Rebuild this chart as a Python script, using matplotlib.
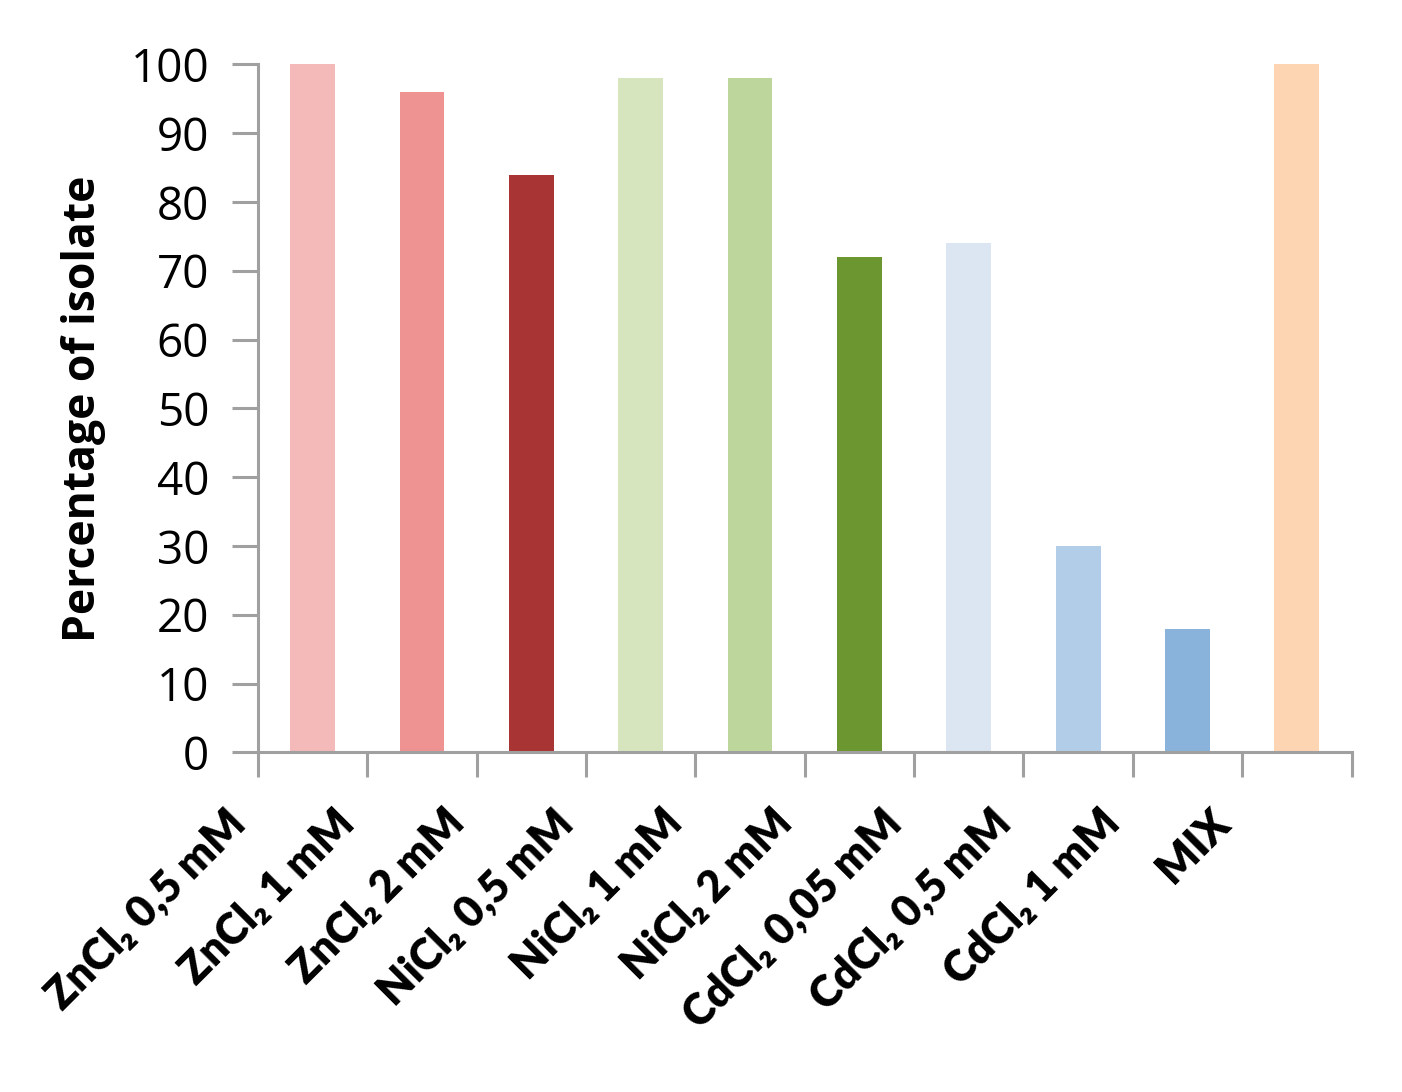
import matplotlib
matplotlib.use('Agg')
import matplotlib.pyplot as plt
from matplotlib.transforms import ScaledTranslation

categories = ['ZnCl\u2082 0,5 mM', 'ZnCl\u2082 1 mM', 'ZnCl\u2082 2 mM',
              'NiCl\u2082 0,5 mM', 'NiCl\u2082 1 mM', 'NiCl\u2082 2 mM',
              'CdCl\u2082 0,05 mM', 'CdCl\u2082 0,5 mM', 'CdCl\u2082 1 mM', 'MIX']
values = [100, 96, 84, 98, 98, 72, 74, 30, 18, 100]
colors = ['#F4B9B9', '#EE9292', '#A93434', '#D7E5BF', '#BDD69B', '#6C9630',
          '#DCE6F2', '#B2CDE7', '#89B3DA', '#FDD5B3']
yticks = [0, 10, 20, 30, 40, 50, 60, 70, 80, 90, 100]

plt.rcParams['font.family'] = ['Open Sans', 'DejaVu Sans']

fig = plt.figure(figsize=(14.02, 10.92), dpi=100)
ax = fig.add_axes([0.184, 0.311, 0.78, 0.63])

x = list(range(len(categories)))
ax.bar(x, values, width=0.41, color=colors, linewidth=0)

ax.set_xlim(-0.5, len(categories) - 0.5)
ax.set_ylim(0, 100)
ax.set_yticks(yticks)
ax.set_yticklabels([str(t) for t in yticks], fontsize=33)

ax.set_xticks(x)
ax.set_xticks([i - 0.5 for i in range(len(categories) + 1)], minor=True)
ax.tick_params(axis='x', which='major', length=0, pad=10)
ax.tick_params(axis='x', which='minor', length=18, width=2.2, color='#A0A0A0')
ax.tick_params(axis='y', length=19, width=2.2, color='#A0A0A0', pad=16)
ax.set_xticklabels(categories, fontsize=31, fontweight='heavy', rotation=45,
                   ha='right', va='center', rotation_mode='anchor',
                   family=['Lato', 'DejaVu Sans'])
offset = ScaledTranslation(-0.74, -0.5, fig.dpi_scale_trans)
for lbl in ax.get_xticklabels():
    lbl.set_transform(lbl.get_transform() + offset)

ax.set_ylabel('Percentage of isolate', fontsize=32, fontweight='bold', labelpad=18)

for s in ['top', 'right']:
    ax.spines[s].set_visible(False)
for s in ['left', 'bottom']:
    ax.spines[s].set_color('#A0A0A0')
    ax.spines[s].set_linewidth(2.2)

plt.savefig('out.png', dpi=100)
